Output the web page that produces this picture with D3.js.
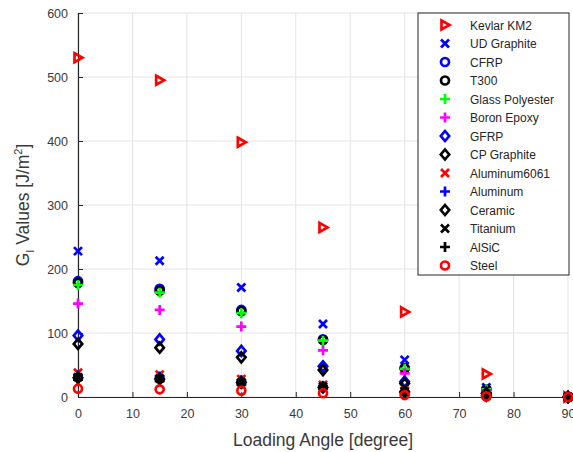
<!DOCTYPE html>
<html>
<head>
<meta charset="utf-8">
<script src="https://cdn.jsdelivr.net/npm/d3@7"></script>
<style>
  body { margin: 0; background: #fff; }
  text { font-family: "Liberation Sans", Arial, sans-serif; }
</style>
</head>
<body>
<svg id="chart" width="573" height="452"></svg>
<script>
// loading angles (degree)
const angles = [0, 15, 30, 45, 60, 75, 90];

// G_I values, one list per material
const materials = ["Kevlar KM2", "UD Graphite", "CFRP", "T300", "Glass Polyester", "Boron Epoxy", "GFRP",
    "CP Graphite", "Aluminum6061", "Aluminum", "Ceramic", "Titanium", "AlSiC", "Steel"];
const kevlar = [530, 495, 398, 265, 133, 36, 0];
const udGraphite = [228, 213, 171, 114, 58, 15, 0];
const cfrp = [181, 169, 136, 90, 45, 12, 0];
const t300 = [178, 166, 134, 89, 45, 12, 0];
const glassPolyester = [175, 163, 131, 88, 44, 12, 0];
const boronEpoxy = [146, 136, 110, 73, 37, 10, 0];
const gfrp = [96, 90, 72, 48, 24, 6, 0];
const cpGraphite = [83, 77, 62, 42, 21, 6, 0];
const aluminum6061 = [38, 35, 28, 19, 10, 3, 0];
const aluminum = [34, 32, 26, 17, 9, 2, 0];
const ceramic = [30, 28, 23, 15, 8, 2, 0];
const titanium = [31, 29, 23, 16, 8, 2, 0];
const alsic = [27, 25, 20, 14, 7, 2, 0];
const steel = [13, 12, 10, 6, 3, 1, 0];

const xTicks = [0, 10, 20, 30, 40, 50, 60, 70, 80, 90];
const yTicks = [0, 100, 200, 300, 400, 500, 600];

const seriesValues = [kevlar, udGraphite, cfrp, t300, glassPolyester, boronEpoxy, gfrp,
    cpGraphite, aluminum6061, aluminum, ceramic, titanium, alsic, steel];
const markers = ["tri", "x", "o", "o", "+", "+", "d", "d", "x", "+", "d", "x", "+", "o"];
const colors = ["#ff0000", "#0000ff", "#0000ff", "#000000", "#00ff00", "#ff00ff", "#0000ff",
    "#000000", "#ff0000", "#0000ff", "#000000", "#000000", "#000000", "#ff0000"];

const margin = {left: 78, right: 5, top: 13, bottom: 55};
const width = 573, height = 452;

const svg = d3.select("#chart");

const x = d3.scaleLinear().domain([0, 90]).range([margin.left, width - margin.right]);
const y = d3.scaleLinear().domain([0, 600]).range([height - margin.bottom, margin.top]);

// grid
svg.append("g").selectAll("line").data(xTicks).join("line")
    .attr("x1", d => x(d)).attr("x2", d => x(d))
    .attr("y1", y(0)).attr("y2", y(600))
    .attr("stroke", "#e3e3e3").attr("stroke-width", 1);
svg.append("g").selectAll("line").data(yTicks).join("line")
    .attr("x1", x(0)).attr("x2", x(90))
    .attr("y1", d => y(d)).attr("y2", d => y(d))
    .attr("stroke", "#e3e3e3").attr("stroke-width", 1);

// axes (ticks inward like matlab)
const xAxis = svg.append("g")
    .attr("transform", "translate(0," + y(0) + ")")
    .call(d3.axisBottom(x).tickValues(xTicks).tickSizeInner(-5).tickSizeOuter(0).tickPadding(12));
const yAxis = svg.append("g")
    .attr("transform", "translate(" + x(0) + ",0)")
    .call(d3.axisLeft(y).tickValues(yTicks).tickSizeInner(-5).tickSizeOuter(0).tickPadding(10));

[xAxis, yAxis].forEach(ax => {
    ax.select(".domain").attr("stroke", "#262626").attr("stroke-width", 1.2);
    ax.selectAll(".tick line").attr("stroke", "#262626");
    ax.selectAll(".tick text").attr("fill", "#3a3a3a")
        .style("font-size", "12.5px").style("font-family", "'Liberation Sans', Arial, sans-serif");
});

// marker shapes
const markerPath = (type) => {
    switch (type) {
        case "tri":
            return "M-3.5,-4.5L4.5,0L-3.5,4.5Z";
        case "x":
            return "M-4,-4L4,4M-4,4L4,-4";
        case "+":
            return "M-5,0L5,0M0,-5L0,5";
        case "d":
            return "M0,-5L4.2,0L0,5L-4.2,0Z";
        case "o":
            return d3.arc()({innerRadius: 0, outerRadius: 4, startAngle: 0, endAngle: 2 * Math.PI});
        default:
            return "";
    }
};

// points
const plot = svg.append("g");
seriesValues.forEach((vals, i) => {
    plot.append("g").selectAll("path").data(vals).join("path")
        .attr("transform", (d, j) => "translate(" + x(angles[j]) + "," + y(d) + ")")
        .attr("d", markerPath(markers[i]))
        .attr("fill", "none")
        .attr("stroke", colors[i])
        .attr("stroke-width", 2.7);
});

// legend
const lg = svg.append("g").attr("transform", "translate(418,13)");
lg.append("rect").attr("width", 151).attr("height", 262)
    .attr("fill", "#fff").attr("stroke", "#262626").attr("stroke-width", 1);
materials.forEach((name, i) => {
    const row = lg.append("g").attr("transform", "translate(0," + (12 + i * 18.5) + ")");
    row.append("path")
        .attr("transform", "translate(27,0)")
        .attr("d", markerPath(markers[i]))
        .attr("fill", "none").attr("stroke", colors[i]).attr("stroke-width", 2.7);
    row.append("text").attr("x", 52).attr("y", 4.5)
        .attr("fill", "#262626").style("font-size", "12px")
        .text(name);
});

// axis labels
svg.append("text")
    .attr("x", (x(0) + x(90)) / 2).attr("y", 446)
    .attr("text-anchor", "middle").attr("fill", "#3a3a3a")
    .style("font-size", "17.5px")
    .text("Loading Angle [degree]");

const yl = svg.append("text")
    .attr("transform", "translate(29," + ((y(0) + y(600)) / 2) + ") rotate(-90)")
    .attr("text-anchor", "middle").attr("fill", "#3a3a3a")
    .style("font-size", "17.5px");
yl.append("tspan").text("G");
yl.append("tspan").attr("dy", 5).style("font-size", "11px").text("I");
yl.append("tspan").attr("dy", -5).text(" Values [J/m");
yl.append("tspan").attr("dy", -7).style("font-size", "11px").text("2");
yl.append("tspan").attr("dy", 7).text("]");
</script>
</body>
</html>
